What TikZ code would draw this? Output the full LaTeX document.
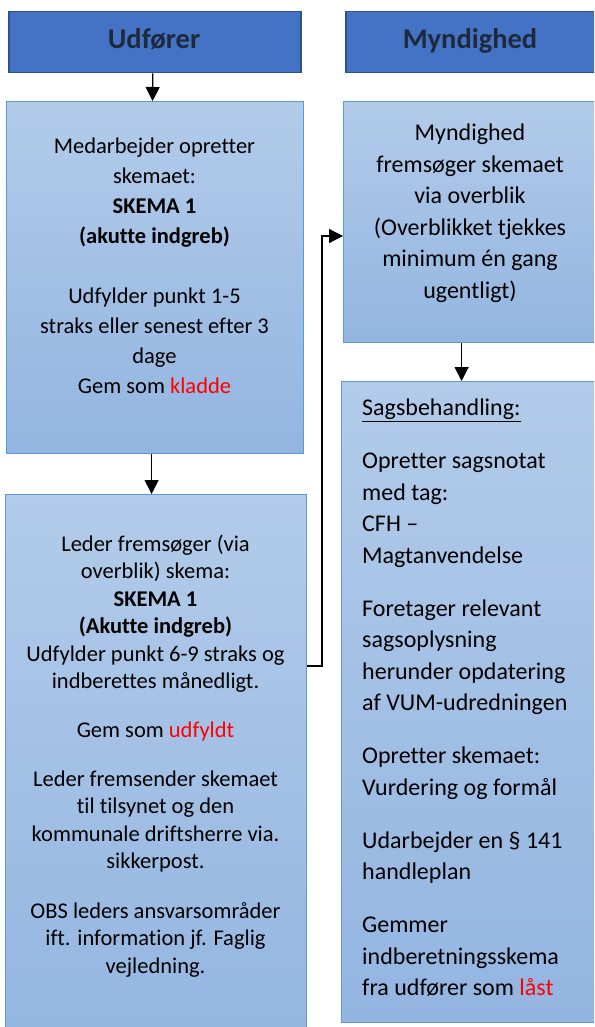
\documentclass[tikz,border=0pt]{standalone}
\usepackage{fontspec}
\setmainfont{Carlito}[Ligatures={TeX,NoCommon}]
\usetikzlibrary{arrows.meta}
\definecolor{hdrfill}{HTML}{4472C4}
\definecolor{hdrline}{HTML}{2F528F}
\definecolor{hdrtext}{HTML}{1E2A3C}
\definecolor{boxtop}{HTML}{B2CBE9}
\definecolor{boxbot}{HTML}{93B5E1}
\definecolor{boxline}{HTML}{5B9BD5}
\begin{document}
\begin{tikzpicture}[x=1pt,y=-1pt,
  hdr/.style={draw=hdrline, line width=1.5pt, fill=hdrfill, inner sep=0pt, anchor=north west},
  fbox/.style={draw=boxline, line width=1.2pt, top color=boxtop, bottom color=boxbot, inner sep=0pt, anchor=north west},
  htxt/.style={anchor=base, inner sep=0pt, text=hdrtext, font=\fontsize{28.5}{34}\selectfont\bfseries},
  atxt/.style={anchor=base, inner sep=0pt, align=center, font=\fontsize{22.5}{30}\selectfont},
  btxt/.style={anchor=base, inner sep=0pt, align=center, font=\fontsize{22.5}{27.5}\selectfont},
  ctxt/.style={anchor=base, inner sep=0pt, align=center, font=\fontsize{24}{31.6}\selectfont},
  dtxt/.style={anchor=base west, inner sep=0pt, align=left, font=\fontsize{24}{31.5}\selectfont},
  arr/.style={draw=black, line width=1.2pt, -{Triangle[length=14pt,width=14pt]}},
]
\useasboundingbox (0,0) rectangle (594,1027);
\clip (0,0) rectangle (594,1027);
% headers
\node[hdr, minimum width=292pt, minimum height=61pt] (h1) at (8,11) {};
\node[hdr, minimum width=252pt, minimum height=61pt] (h2) at (345,11) {};
\node[htxt] (h1t) at (154,48.5) {Udfører};
\node[htxt] (h2t) at (470,48.5) {Myndighed};
% boxes
\node[fbox, minimum width=297pt, minimum height=352pt] (A) at (6,101) {};
\node[fbox, minimum width=301pt, minimum height=560pt] (B) at (5,494) {};
\node[fbox, minimum width=254pt, minimum height=241pt] (C) at (343,101) {};
\node[fbox, minimum width=256pt, minimum height=641pt] (D) at (341,381) {};
% texts (anchor base = baseline of the last line)
\node[atxt] (At) at (154.5,393.5) {Medarbejder opretter\\skemaet:\\\textbf{SKEMA 1}\\\textbf{(akutte indgreb)}\\[30pt]Udfylder punkt 1-5\\straks eller senest efter 3\\dage\\Gem som \textcolor{red}{kladde}};
\node[btxt] (Bt) at (155.5,973) {Leder fremsøger (via\\overblik) skema:\\\textbf{SKEMA 1}\\\textbf{(Akutte indgreb)}\\Udfylder punkt 6-9 straks og\\indberettes månedligt.\\[21pt]Gem som \textcolor{red}{udfyldt}\\[21.5pt]Leder fremsender skemaet\\til tilsynet og den\\kommunale driftsherre via.\\sikkerpost.\\[22pt]OBS leders ansvarsområder\\ift. information jf. Faglig\\vejledning.};
\node[ctxt] (Ct) at (470,298.5) {Myndighed\\fremsøger skemaet\\via overblik\\(Overblikket tjekkes\\minimum én gang\\ugentligt)};
\node[dtxt] (Dt) at (362,995.5) {\underline{Sagsbehandling:}\\[21.5pt]Opretter sagsnotat\\med tag:\\CFH –\\Magtanvendelse\\[21.5pt]Foretager relevant\\sagsoplysning\\herunder opdatering\\af VUM-udredningen\\[21.5pt]Opretter skemaet:\\Vurdering og formål\\[21.5pt]Udarbejder en § 141\\handleplan\\[21.5pt]Gemmer\\indberetningsskema\\fra udfører som \textcolor{red}{låst}};
% connectors
\draw[arr] ([xshift=-2pt]h1.south) -- ([xshift=-2.5pt]A.north);
\draw[arr] ([xshift=-3.5pt]A.south) -- ([xshift=-4.5pt]B.north);
\draw[arr] ([xshift=-9pt]C.south) -- ([xshift=-8pt]D.north);
\coordinate (j1) at (322,666);
\coordinate (j2) at (322,236);
\draw[arr] (j1 -| B.east) -- (j1) -- (j2) -- (j2 -| C.west);
\end{tikzpicture}
\end{document}
